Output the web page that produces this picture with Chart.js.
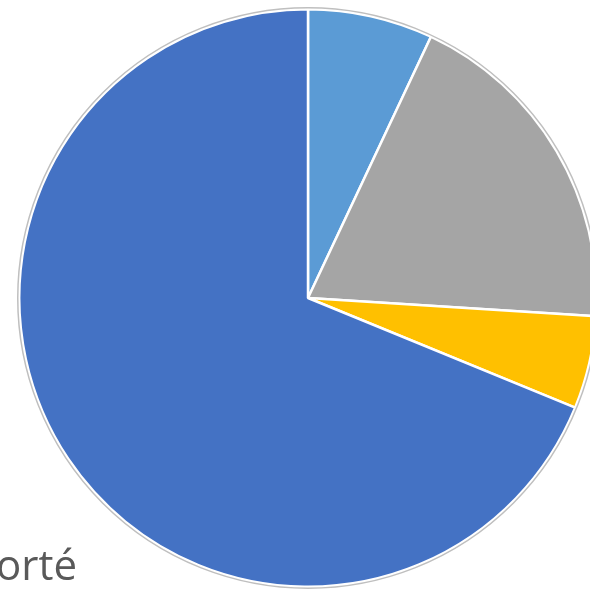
<!DOCTYPE html>
<html>
<head>
<meta charset="utf-8">
<script src="https://cdn.jsdelivr.net/npm/chart.js@4"></script>
<style>
    html, body { margin: 0; padding: 0; background: #fff; overflow: hidden; width: 590px; height: 593px; }
    .pie-wrap { position: absolute; left: 14px; top: 4px; width: 588px; height: 588px; }
    .pie-note { position: absolute; left: -4px; top: 535px; font-family: "Open Sans", sans-serif; font-size: 42px; line-height: normal; color: #595959; }
</style>
</head>
<body>
<div class="pie-wrap"><canvas id="pieChart" width="588" height="588"></canvas></div>
<div class="pie-note">orté</div>
<script>
(function () {
    const labels = ["Part 1", "Part 2", "Part 3", "Part 4"];
    const shares = [7.0, 19.0, 5.2, 68.8];
    const colors = ["#5B9BD5", "#A5A5A5", "#FFC000", "#4472C4"];

    // thin grey ring around the pie, like the office export
    const outerRing = {
        id: "outerRing",
        afterDatasetsDraw(chart) {
            const arc = chart.getDatasetMeta(0).data[0];
            if (!arc) return;
            const ctx = chart.ctx;
            ctx.save();
            ctx.beginPath();
            ctx.arc(arc.x, arc.y, arc.outerRadius + 1.5, 0, Math.PI * 2);
            ctx.strokeStyle = "#bfbfbf";
            ctx.lineWidth = 1.5;
            ctx.stroke();
            ctx.restore();
        },
    };

    new Chart(document.querySelector("#pieChart"), {
        type: "pie",
        data: {
            labels: labels,
            datasets: [{
                data: shares,
                backgroundColor: colors,
                borderColor: "#ffffff",
                borderWidth: 2.5,
            }],
        },
        options: {
            responsive: false,
            animation: false,
            layout: { padding: 4 },
            plugins: {
                legend: { display: false },
                tooltip: { enabled: false },
            },
        },
        plugins: [outerRing],
    });
})();
</script>
</body>
</html>
